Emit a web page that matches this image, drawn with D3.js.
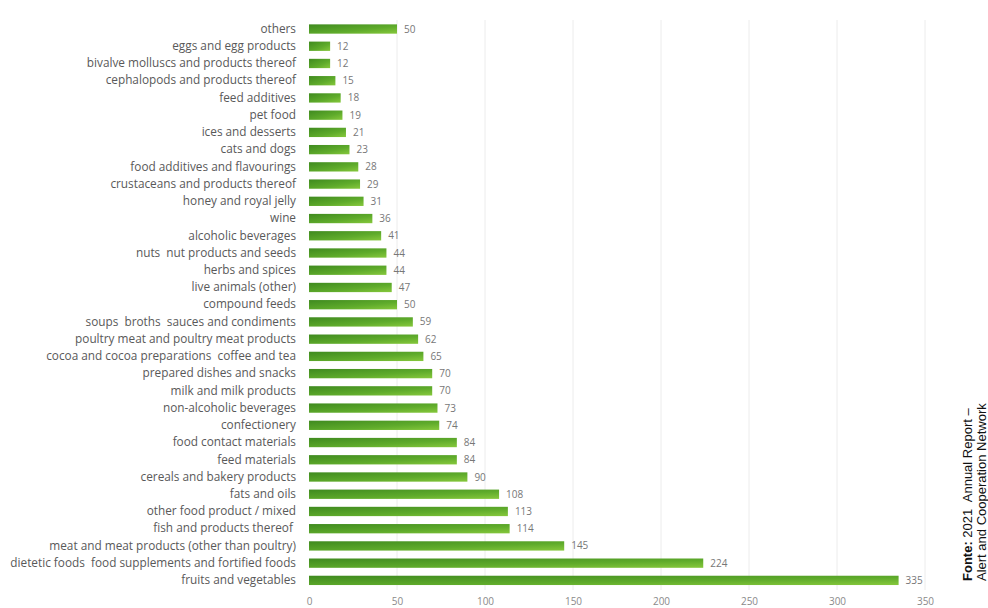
<!DOCTYPE html>
<html>
<head>
<meta charset="utf-8">
<script src="https://cdn.jsdelivr.net/npm/d3@7"></script>
<style>
  body { margin: 0; background: #fff; }
  svg { display: block; }
</style>
</head>
<body>
<svg id="chart" width="988" height="608"></svg>
<script>
const categories = [
  'others', 'eggs and egg products', 'bivalve molluscs and products thereof',
  'cephalopods and products thereof', 'feed additives', 'pet food', 'ices and desserts',
  'cats and dogs', 'food additives and flavourings', 'crustaceans and products thereof',
  'honey and royal jelly', 'wine', 'alcoholic beverages', 'nuts  nut products and seeds',
  'herbs and spices', 'live animals (other)', 'compound feeds',
  'soups  broths  sauces and condiments', 'poultry meat and poultry meat products',
  'cocoa and cocoa preparations  coffee and tea', 'prepared dishes and snacks',
  'milk and milk products', 'non-alcoholic beverages', 'confectionery',
  'food contact materials', 'feed materials', 'cereals and bakery products',
  'fats and oils', 'other food product / mixed', 'fish and products thereof ',
  'meat and meat products (other than poultry)',
  'dietetic foods  food supplements and fortified foods', 'fruits and vegetables'
]
const values = [
  50, 12, 12, 15, 18, 19, 21, 23, 28, 29, 31, 36, 41, 44, 44, 47, 50,
  59, 62, 65, 70, 70, 73, 74, 84, 84, 90, 108, 113, 114, 145, 224, 335
]
const xTicks = [0, 50, 100, 150, 200, 250, 300, 350]
const sourceLines = [['Fonte:', ' 2021  Annual Report –'], ['', 'Alert and Cooperation Network']]

const rows = categories.map((c, i) => ({ name: c, value: values[i] }))
const svg = d3.select('#chart')

const x = d3.scaleLinear().domain([0, 350]).range([309, 925])
const y = d3.scaleBand().domain(d3.range(rows.length)).range([20.4, 589]).paddingInner(0.46).paddingOuter(0.23)

// bar gradient
const defs = svg.append('defs')
const grad = defs.append('linearGradient').attr('id', 'barGrad')
  .attr('x1', 0).attr('y1', 0).attr('x2', 1).attr('y2', 1)
grad.append('stop').attr('offset', '0%').attr('stop-color', '#3f8a1f')
grad.append('stop').attr('offset', '60%').attr('stop-color', '#5fab2b')
grad.append('stop').attr('offset', '100%').attr('stop-color', '#86c83c')

// gridlines
svg.append('g').selectAll('line')
  .data(xTicks.slice(1))
  .join('line')
  .attr('x1', d => x(d)).attr('x2', d => x(d))
  .attr('y1', 20).attr('y2', 590)
  .attr('stroke', '#ececec').attr('stroke-width', 1)

// x axis labels
const xAxis = d3.axisBottom(x).tickValues(xTicks).tickSize(0).tickPadding(0)
svg.append('g').attr('transform', 'translate(0,598)').call(xAxis)
  .call(g => g.select('.domain').remove())
  .call(g => g.selectAll('text')
    .attr('font-family', '"Open Sans", Lato, sans-serif')
    .attr('font-size', 10)
    .attr('fill', '#8a8a8a'))

// y axis labels
const yAxis = d3.axisLeft(y).tickFormat(i => rows[i].name).tickSize(0).tickPadding(0)
svg.append('g').attr('transform', 'translate(296,0)').call(yAxis)
  .call(g => g.select('.domain').remove())
  .call(g => g.selectAll('text')
    .attr('font-family', '"Open Sans", Lato, sans-serif')
    .attr('font-size', 11.8)
    .attr('fill', '#595959')
    .style('white-space', 'pre'))

// bars
svg.append('g').selectAll('rect')
  .data(rows)
  .join('rect')
  .attr('x', x(0))
  .attr('y', (d, i) => y(i))
  .attr('width', d => x(d.value) - x(0))
  .attr('height', y.bandwidth())
  .attr('fill', 'url(#barGrad)')

// value labels
svg.append('g').selectAll('text')
  .data(rows)
  .join('text')
  .attr('x', d => x(d.value) + 7)
  .attr('y', (d, i) => y(i) + y.bandwidth() / 2)
  .attr('dy', '0.35em')
  .attr('font-family', '"Open Sans", Lato, sans-serif')
  .attr('font-size', 10)
  .attr('fill', '#777')
  .text(d => d.value)

// source note (rotated)
const note = svg.append('g').attr('font-family', '"Liberation Sans", Arial, sans-serif')
  .attr('font-size', 13).attr('fill', '#111')
sourceLines.forEach((ln, i) => {
  const t = note.append('text')
    .attr('transform', `translate(${972 + i * 14},581) rotate(-90)`)
  if (ln[0]) t.append('tspan').attr('font-weight', 'bold').text(ln[0])
  t.append('tspan').style('white-space', 'pre').text(ln[1])
})
</script>
</body>
</html>
